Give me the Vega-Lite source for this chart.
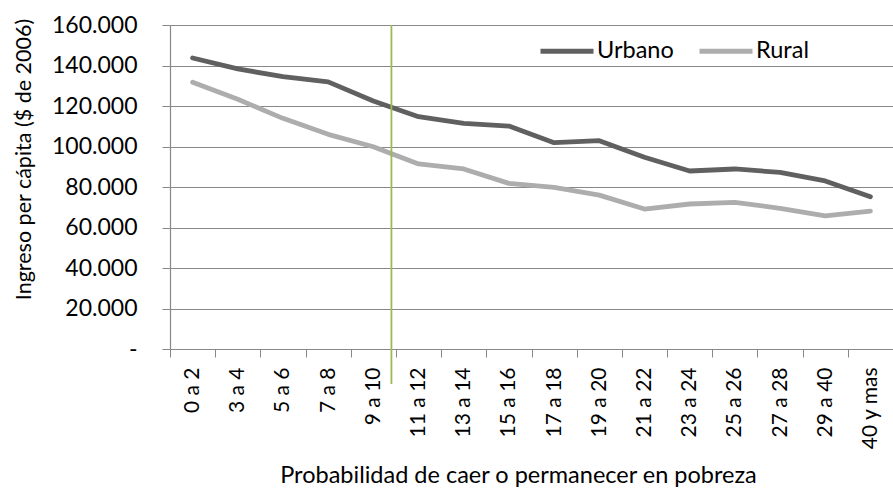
{
  "$schema": "https://vega.github.io/schema/vega-lite/v6.json",
  "autosize": "none",
  "width": 723,
  "height": 324,
  "padding": {"left": 170, "top": 25, "right": 0, "bottom": 149},
  "background": "white",
  "config": {
    "font": "Lato",
    "view": {"stroke": null},
    "axis": {"labelFont": "Lato", "titleFont": "Lato", "labelColor": "black", "titleColor": "black", "titleFontWeight": "normal"},
    "legend": {"labelFont": "Lato", "labelColor": "black"}
  },
  "datasets": {
    "series": [
      {"cat": "0 a 2", "zona": "Urbano", "ingreso": 143700},
      {"cat": "3 a 4", "zona": "Urbano", "ingreso": 138300},
      {"cat": "5 a 6", "zona": "Urbano", "ingreso": 134500},
      {"cat": "7 a 8", "zona": "Urbano", "ingreso": 131900},
      {"cat": "9 a 10", "zona": "Urbano", "ingreso": 122500},
      {"cat": "11 a 12", "zona": "Urbano", "ingreso": 114700},
      {"cat": "13 a 14", "zona": "Urbano", "ingreso": 111400},
      {"cat": "15 a 16", "zona": "Urbano", "ingreso": 110100},
      {"cat": "17 a 18", "zona": "Urbano", "ingreso": 101900},
      {"cat": "19 a 20", "zona": "Urbano", "ingreso": 102900},
      {"cat": "21 a 22", "zona": "Urbano", "ingreso": 94700},
      {"cat": "23 a 24", "zona": "Urbano", "ingreso": 87900},
      {"cat": "25 a 26", "zona": "Urbano", "ingreso": 88900},
      {"cat": "27 a 28", "zona": "Urbano", "ingreso": 87200},
      {"cat": "29 a 40", "zona": "Urbano", "ingreso": 83000},
      {"cat": "40 y mas", "zona": "Urbano", "ingreso": 75200},
      {"cat": "0 a 2", "zona": "Rural", "ingreso": 131700},
      {"cat": "3 a 4", "zona": "Rural", "ingreso": 123300},
      {"cat": "5 a 6", "zona": "Rural", "ingreso": 113900},
      {"cat": "7 a 8", "zona": "Rural", "ingreso": 106000},
      {"cat": "9 a 10", "zona": "Rural", "ingreso": 99900},
      {"cat": "11 a 12", "zona": "Rural", "ingreso": 91400},
      {"cat": "13 a 14", "zona": "Rural", "ingreso": 88900},
      {"cat": "15 a 16", "zona": "Rural", "ingreso": 81800},
      {"cat": "17 a 18", "zona": "Rural", "ingreso": 79800},
      {"cat": "19 a 20", "zona": "Rural", "ingreso": 76000},
      {"cat": "21 a 22", "zona": "Rural", "ingreso": 69100},
      {"cat": "23 a 24", "zona": "Rural", "ingreso": 71600},
      {"cat": "25 a 26", "zona": "Rural", "ingreso": 72400},
      {"cat": "27 a 28", "zona": "Rural", "ingreso": 69500},
      {"cat": "29 a 40", "zona": "Rural", "ingreso": 65700},
      {"cat": "40 y mas", "zona": "Rural", "ingreso": 68100}
    ],
    "marker": [
      {"cat": "9 a 10", "y": 160000, "y2": -17300}
    ]
  },
  "layer": [
    {
      "data": {"name": "series"},
      "mark": {"type": "line", "strokeWidth": 4.8, "strokeCap": "round", "strokeJoin": "round"},
      "encoding": {
        "x": {
          "field": "cat", "type": "nominal", "bandPosition": 0.5, "sort": null,
          "scale": {"type": "band", "paddingInner": 0, "paddingOuter": 0,
            "domain": ["0 a 2", "3 a 4", "5 a 6", "7 a 8", "9 a 10", "11 a 12", "13 a 14", "15 a 16", "17 a 18", "19 a 20", "21 a 22", "23 a 24", "25 a 26", "27 a 28", "29 a 40", "40 y mas"]},
          "axis": {
            "title": "Probabilidad de caer o permanecer en pobreza",
            "titleFontSize": 23.5, "titleX": 348, "titleY": 133, "titleBaseline": "alphabetic", "titleAlign": "center",
            "labelAngle": 270, "labelAlign": "right", "labelBaseline": "middle", "labelFontSize": 21, "labelPadding": 10,
            "tickBand": "extent", "tickSize": 8, "tickColor": "#888888", "domainColor": "#888888", "domainWidth": 1.2,
            "grid": false
          }
        },
        "y": {
          "field": "ingreso", "type": "quantitative",
          "scale": {"domain": [0, 160000], "nice": false, "zero": true},
          "axis": {
            "title": "Ingreso per cápita ($ de 2006)",
            "titleFontSize": 21.5, "titleX": -146, "titleY": 134, "titleAngle": 270, "titleBaseline": "middle", "titleAlign": "center",
            "values": [0, 20000, 40000, 60000, 80000, 100000, 120000, 140000, 160000],
            "labelExpr": "datum.value == 0 ? '-' : replace(format(datum.value, ','), ',', '.')",
            "labelFontSize": 23, "labelPadding": 25,
            "tickSize": 8, "tickColor": "#888888", "domainColor": "#888888", "domainWidth": 1.2,
            "grid": true, "gridColor": "#888888", "gridWidth": 1.2
          }
        },
        "color": {
          "field": "zona", "type": "nominal",
          "scale": {"domain": ["Urbano", "Rural"], "range": ["#606060", "#adadad"]},
          "legend": {
            "orient": "none", "legendX": 368, "legendY": -3, "direction": "horizontal", "title": null,
            "symbolType": "stroke", "symbolSize": 2809, "symbolStrokeWidth": 5,
            "labelFontSize": 23.5, "labelOffset": 1, "columnPadding": 15, "padding": 0
          }
        }
      }
    },
    {
      "data": {"name": "marker"},
      "mark": {"type": "rule", "color": "#9bbb59", "strokeWidth": 1.8, "clip": false},
      "encoding": {
        "x": {"field": "cat", "type": "nominal", "bandPosition": 0.9, "sort": null},
        "y": {"field": "y", "type": "quantitative"},
        "y2": {"field": "y2"}
      }
    }
  ]
}
